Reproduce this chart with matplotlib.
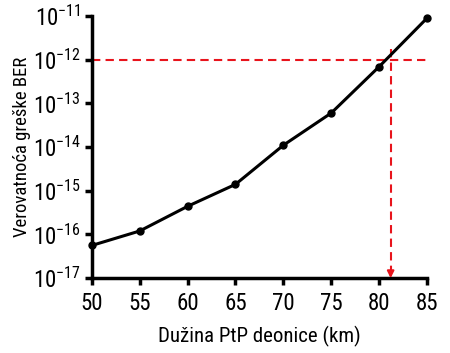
import numpy as np
import matplotlib.pyplot as plt
from matplotlib.ticker import FixedLocator, FuncFormatter, NullLocator

# data
length_km = [50, 55, 60, 65, 70, 75, 80, 85]
ber = [5.6e-17, 1.2e-16, 4.4e-16, 1.4e-15, 1.1e-14, 6.0e-14, 6.9e-13, 8.9e-12]
ber_limit = 1e-12
max_length = 81.2

plt.rcParams['font.family'] = ['Roboto Condensed', 'Liberation Sans', 'DejaVu Sans']
plt.rcParams['mathtext.default'] = 'regular'

fig = plt.figure(figsize=(4.5, 3.53), dpi=100)
ax = fig.add_axes([0.204, 0.212, 0.745, 0.743])

# limit lines
ax.plot([50, 85], [ber_limit, ber_limit], color='#e8141c', lw=1.5, ls=(0, (4, 2.5)), zorder=2)
ax.plot([max_length, max_length], [10**-11.75, 10**-16.9], color='#e8141c', lw=1.5,
        ls=(0, (4, 2.5)), zorder=2)
ax.annotate('', xy=(max_length, 1e-17), xytext=(max_length, 10**-16.85),
            arrowprops=dict(arrowstyle='-|>', color='#e8141c', lw=1.5,
                            mutation_scale=10, shrinkA=0, shrinkB=0))

ax.plot(length_km, ber, color='black', lw=2.2, marker='o', ms=5, zorder=3, clip_on=False)

ax.set_yscale('log')
ax.set_xlim(50, 85)
ax.set_ylim(1e-17, 1e-11)
ax.set_xticks(np.arange(50, 86, 5))
ax.yaxis.set_major_locator(FixedLocator([10.0**e for e in range(-17, -10)]))
ax.yaxis.set_minor_locator(NullLocator())
ax.yaxis.set_major_formatter(FuncFormatter(lambda v, p: r'$10^{%d}$' % round(np.log10(v))))

for s in ['top', 'right']:
    ax.spines[s].set_visible(False)
for s in ['left', 'bottom']:
    ax.spines[s].set_linewidth(2.5)
ax.tick_params(width=2.5, length=5, labelsize=16.5)
ax.tick_params(axis='x', pad=5)
ax.tick_params(axis='y', pad=3)

ax.set_xlabel('Dužina PtP deonice (km)', fontsize=15, labelpad=8)
ax.set_ylabel('Verovatnoća greške BER', fontsize=13.5, labelpad=1)

fig.savefig('out.png', dpi=100)
